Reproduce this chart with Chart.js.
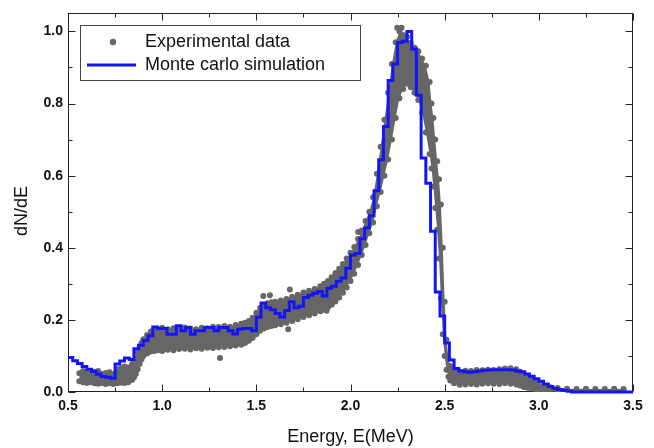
<!DOCTYPE html>
<html>
<head>
<meta charset="utf-8">
<script src="https://cdn.jsdelivr.net/npm/chart.js@4.4.0/dist/chart.umd.min.js"></script>
<style>
html, body { margin: 0; padding: 0; background: #fff; }
#wrap { width: 654px; height: 448px; }
</style>
</head>
<body>
<div id="wrap"><canvas id="chart" width="654" height="448"></canvas></div>
<script>
// Monte carlo histogram: bin start energies (MeV) and dN/dE per bin
const mcEnergy = [
    0.500, 0.525, 0.550, 0.575, 0.600, 0.625, 0.650, 0.675, 0.700, 0.725,
    0.750, 0.775, 0.800, 0.825, 0.850, 0.875, 0.900, 0.925, 0.950, 0.975,
    1.000, 1.025, 1.050, 1.075, 1.100, 1.125, 1.150, 1.175, 1.200, 1.225,
    1.250, 1.275, 1.300, 1.325, 1.350, 1.375, 1.400, 1.425, 1.450, 1.475,
    1.500, 1.525, 1.550, 1.575, 1.600, 1.625, 1.650, 1.675, 1.700, 1.725,
    1.750, 1.775, 1.800, 1.825, 1.850, 1.875, 1.900, 1.925, 1.950, 1.975,
    2.000, 2.025, 2.050, 2.075, 2.100, 2.125, 2.150, 2.175, 2.200, 2.225,
    2.250, 2.275, 2.300, 2.325, 2.350, 2.375, 2.400, 2.425, 2.450, 2.475,
    2.500, 2.525, 2.550, 2.575, 2.600, 2.625, 2.650, 2.675, 2.700, 2.725,
    2.750, 2.775, 2.800, 2.825, 2.850, 2.875, 2.900, 2.925, 2.950, 2.975,
    3.000, 3.025, 3.050, 3.075, 3.100, 3.125, 3.150, 3.175, 3.500
];
const mcCounts = [
    0.096, 0.087, 0.079, 0.071, 0.063, 0.057, 0.049, 0.043, 0.041, 0.038,
    0.078, 0.086, 0.094, 0.090, 0.120, 0.130, 0.143, 0.156, 0.180, 0.176,
    0.176, 0.160, 0.160, 0.184, 0.170, 0.179, 0.160, 0.170, 0.170, 0.179,
    0.179, 0.170, 0.179, 0.179, 0.170, 0.161, 0.174, 0.176, 0.176, 0.170,
    0.207, 0.247, 0.234, 0.228, 0.218, 0.208, 0.226, 0.250, 0.234, 0.238,
    0.262, 0.268, 0.274, 0.279, 0.266, 0.288, 0.293, 0.307, 0.316, 0.343,
    0.380, 0.384, 0.425, 0.455, 0.489, 0.558, 0.644, 0.736, 0.864, 0.910,
    0.969, 0.973, 1.000, 0.951, 0.823, 0.649, 0.579, 0.446, 0.277, 0.211,
    0.136, 0.089, 0.065, 0.058, 0.056, 0.055, 0.056, 0.058, 0.060, 0.061,
    0.062, 0.062, 0.062, 0.062, 0.061, 0.058, 0.056, 0.050, 0.044, 0.037,
    0.030, 0.022, 0.015, 0.010, 0.007, 0.004, 0.002, 0.000, 0.000
];

// Experimental points: lower and upper edge of the measured cloud at each energy
const expEnergy = [
    0.56, 0.58, 0.60, 0.62, 0.64, 0.66, 0.68, 0.70, 0.72, 0.74,
    0.76, 0.78, 0.80, 0.82, 0.84, 0.85, 0.86, 0.87, 0.88, 0.89,
    0.90, 0.92, 0.94, 0.96, 0.98, 1.00, 1.03, 1.06, 1.09, 1.12,
    1.15, 1.18, 1.21, 1.24, 1.27, 1.30, 1.33, 1.36, 1.39, 1.42,
    1.44, 1.46, 1.48, 1.50, 1.52, 1.54, 1.56, 1.58, 1.60, 1.63,
    1.66, 1.69, 1.72, 1.75, 1.78, 1.81, 1.84, 1.86, 1.88, 1.90,
    1.92, 1.94, 1.96, 1.98, 2.00, 2.02, 2.04, 2.06, 2.08, 2.10,
    2.12, 2.14, 2.16, 2.18, 2.20, 2.22, 2.24, 2.26, 2.28, 2.30,
    2.32, 2.34, 2.36, 2.38, 2.40, 2.42, 2.43, 2.44, 2.45, 2.46,
    2.47, 2.48, 2.49, 2.50, 2.51, 2.52, 2.53, 2.55, 2.58, 2.61,
    2.64, 2.67, 2.70, 2.73, 2.76, 2.79, 2.82, 2.85, 2.88, 2.90,
    2.92, 2.94, 2.96, 2.98, 3.00, 3.03, 3.06, 3.10, 3.15, 3.20,
    3.25, 3.30, 3.35, 3.40, 3.45
];
const expLow = [
    0.030, 0.027, 0.025, 0.027, 0.024, 0.023, 0.025, 0.022, 0.024, 0.022,
    0.024, 0.026, 0.025, 0.027, 0.033, 0.040, 0.050, 0.063, 0.078, 0.090,
    0.100, 0.107, 0.112, 0.114, 0.116, 0.114, 0.117, 0.116, 0.119, 0.120,
    0.118, 0.121, 0.120, 0.123, 0.122, 0.124, 0.125, 0.127, 0.129, 0.131,
    0.136, 0.142, 0.150, 0.160, 0.170, 0.176, 0.180, 0.183, 0.185, 0.188,
    0.192, 0.197, 0.202, 0.208, 0.213, 0.218, 0.224, 0.229, 0.235, 0.242,
    0.251, 0.262, 0.275, 0.290, 0.308, 0.328, 0.352, 0.380, 0.408, 0.440,
    0.470, 0.515, 0.555, 0.600, 0.645, 0.700, 0.760, 0.815, 0.840, 0.855,
    0.845, 0.830, 0.810, 0.775, 0.720, 0.660, 0.620, 0.570, 0.510, 0.450,
    0.370, 0.260, 0.160, 0.100, 0.062, 0.042, 0.032, 0.024, 0.020, 0.021,
    0.022, 0.021, 0.023, 0.024, 0.023, 0.022, 0.024, 0.023, 0.021, 0.018,
    0.014, 0.012, 0.010, 0.008, 0.006, 0.005, 0.004, 0.003, 0.003, 0.002,
    0.002, 0.002, 0.002, 0.002, 0.002
];
const expHigh = [
    0.052, 0.058, 0.055, 0.050, 0.056, 0.058, 0.050, 0.053, 0.055, 0.050,
    0.063, 0.066, 0.071, 0.068, 0.078, 0.086, 0.096, 0.110, 0.124, 0.136,
    0.146, 0.158, 0.168, 0.175, 0.173, 0.178, 0.174, 0.177, 0.175, 0.179,
    0.176, 0.174, 0.178, 0.177, 0.181, 0.180, 0.183, 0.181, 0.186, 0.189,
    0.192, 0.197, 0.206, 0.220, 0.233, 0.240, 0.246, 0.249, 0.250, 0.254,
    0.258, 0.264, 0.270, 0.276, 0.281, 0.286, 0.293, 0.300, 0.308, 0.318,
    0.330, 0.342, 0.355, 0.370, 0.386, 0.402, 0.424, 0.448, 0.474, 0.500,
    0.540, 0.605, 0.680, 0.755, 0.830, 0.910, 0.970, 1.000, 0.990, 0.985,
    0.968, 0.955, 0.945, 0.925, 0.905, 0.860, 0.800, 0.760, 0.700, 0.640,
    0.590, 0.520, 0.400, 0.250, 0.145, 0.092, 0.072, 0.062, 0.057, 0.059,
    0.058, 0.061, 0.060, 0.062, 0.061, 0.063, 0.065, 0.066, 0.063, 0.056,
    0.048, 0.041, 0.034, 0.028, 0.022, 0.017, 0.013, 0.011, 0.009, 0.008,
    0.009, 0.008, 0.008, 0.009, 0.008
];
// isolated experimental points outside the main cloud
const strayEnergy = [1.307, 1.537, 1.572, 1.669, 1.678, 1.873, 2.041, 2.248, 2.271];
const strayCounts = [0.094, 0.266, 0.268, 0.174, 0.284, 0.225, 0.444, 1.010, 1.010];

// Axis ticks
const xMajor = [0.5, 1.0, 1.5, 2.0, 2.5, 3.0, 3.5];
const xMinor = [0.75, 1.25, 1.75, 2.25, 2.75, 3.25];
const yMajor = [0.0, 0.2, 0.4, 0.6, 0.8, 1.0];
const yMinor = [0.1, 0.3, 0.5, 0.7, 0.9];

// Colors
const dot_color = '#666666';
const mc_color = 'rgb(20, 20, 250)';
const frame_color = '#222222';
const text_color = '#111111';
const font_family = "Arial, 'Liberation Sans', sans-serif";

const pairs = (xs, ys) => xs.map((x, i) => ({x: x, y: ys[i]}));

// Frame with inward ticks on all four sides
const frame_plugin = {
    id: 'frame',
    beforeDatasetsDraw(chart) {
        const {ctx, chartArea: a, scales: {x, y}} = chart;
        const L = Math.round(a.left) + 0.5, R = Math.round(a.right) - 0.5;
        const T = Math.round(a.top) + 0.5, B = Math.round(a.bottom) - 0.5;
        ctx.save();
        ctx.strokeStyle = frame_color;
        ctx.lineWidth = 1;
        ctx.strokeRect(L, T, R - L, B - T);
        ctx.beginPath();
        const xt = (v, len) => {
            const px = Math.round(x.getPixelForValue(v)) + 0.5;
            ctx.moveTo(px, B); ctx.lineTo(px, B - len);
            ctx.moveTo(px, T); ctx.lineTo(px, T + len);
        };
        const yt = (v, len) => {
            const py = Math.round(y.getPixelForValue(v)) + 0.5;
            ctx.moveTo(L, py); ctx.lineTo(L + len, py);
            ctx.moveTo(R, py); ctx.lineTo(R - len, py);
        };
        xMajor.forEach(v => xt(v, 7));
        xMinor.forEach(v => xt(v, 4));
        yMajor.forEach(v => yt(v, 7));
        yMinor.forEach(v => yt(v, 4));
        ctx.stroke();
        ctx.restore();
    }
};

// Legend box in the upper left and the y axis title (sits a bit below centre)
const legend_plugin = {
    id: 'boxLegend',
    afterDraw(chart) {
        const ctx = chart.ctx;
        ctx.save();
        ctx.fillStyle = '#ffffff';
        ctx.fillRect(81, 25, 280, 55);
        ctx.strokeStyle = '#444444';
        ctx.lineWidth = 1;
        ctx.strokeRect(80.5, 25.5, 280, 55);
        ctx.fillStyle = dot_color;
        ctx.beginPath();
        ctx.arc(113, 42, 3.2, 0, Math.PI * 2);
        ctx.fill();
        ctx.strokeStyle = mc_color;
        ctx.lineWidth = 3;
        ctx.beginPath();
        ctx.moveTo(87, 65);
        ctx.lineTo(136, 65);
        ctx.stroke();
        ctx.fillStyle = text_color;
        ctx.font = '18px ' + font_family;
        ctx.textBaseline = 'middle';
        ctx.fillText('Experimental data', 145, 42);
        ctx.fillText('Monte carlo simulation', 145, 65);
        ctx.translate(22, 211);
        ctx.rotate(-Math.PI / 2);
        ctx.textAlign = 'center';
        ctx.fillText('dN/dE', 0, 0);
        ctx.restore();
    }
};

const chart_canvas = document.getElementById('chart');
const chart_data = {
    datasets: [
        {
            label: 'Monte carlo simulation',
            data: pairs(mcEnergy, mcCounts),
            borderColor: mc_color,
            borderWidth: 3,
            pointRadius: 0,
            stepped: true,
            fill: false,
            clip: 4,
            order: 0,
        },
        {
            label: 'Experimental data',
            data: pairs(expEnergy, expHigh),
            borderWidth: 0,
            backgroundColor: dot_color,
            fill: '+1',
            pointRadius: 3,
            pointBackgroundColor: dot_color,
            pointBorderWidth: 0,
            order: 1,
        },
        {
            label: 'Experimental data (low)',
            data: pairs(expEnergy, expLow),
            borderWidth: 0,
            fill: false,
            pointRadius: 3,
            pointBackgroundColor: dot_color,
            pointBorderWidth: 0,
            order: 2,
        },
        {
            label: 'Experimental data (stray)',
            data: pairs(strayEnergy, strayCounts),
            showLine: false,
            pointRadius: 3,
            pointBackgroundColor: dot_color,
            pointBorderWidth: 0,
            order: 3,
        },
    ],
};
const tick_font = {family: font_family, size: 14, weight: 'bold'};
const title_font = {family: font_family, size: 18};
const chart_options = {
    animation: false,
    responsive: false,
    layout: { padding: {top: 9, right: 21, left: 0, bottom: 0} },
    plugins: {
        legend: { display: false },
        tooltip: { enabled: false },
    },
    scales: {
        x: {
            type: 'linear',
            min: 0.5,
            max: 3.5,
            afterFit: s => { s.height = 56; },
            afterBuildTicks: s => { s.ticks = xMajor.map(v => ({value: v})); },
            grid: { display: false, drawTicks: false },
            border: { display: false },
            ticks: {
                padding: 6,
                color: text_color,
                font: tick_font,
                maxRotation: 0,
                autoSkip: false,
                callback: v => v.toFixed(1),
            },
            title: {
                display: true,
                text: 'Energy, E(MeV)',
                color: text_color,
                font: title_font,
                padding: {top: 0, bottom: 0},
            },
        },
        y: {
            type: 'linear',
            min: 0,
            max: 1.05,
            afterFit: s => { s.width = 68; },
            afterBuildTicks: s => { s.ticks = yMajor.map(v => ({value: v})); },
            grid: { display: false, drawTicks: false },
            border: { display: false },
            ticks: {
                padding: 5,
                color: text_color,
                font: tick_font,
                callback: v => v.toFixed(1),
            },
            title: { display: false },
        },
    },
};
let chart = new Chart(chart_canvas, {
    type: 'line',
    data: chart_data,
    options: chart_options,
    plugins: [frame_plugin, legend_plugin],
});
</script>
</body>
</html>
